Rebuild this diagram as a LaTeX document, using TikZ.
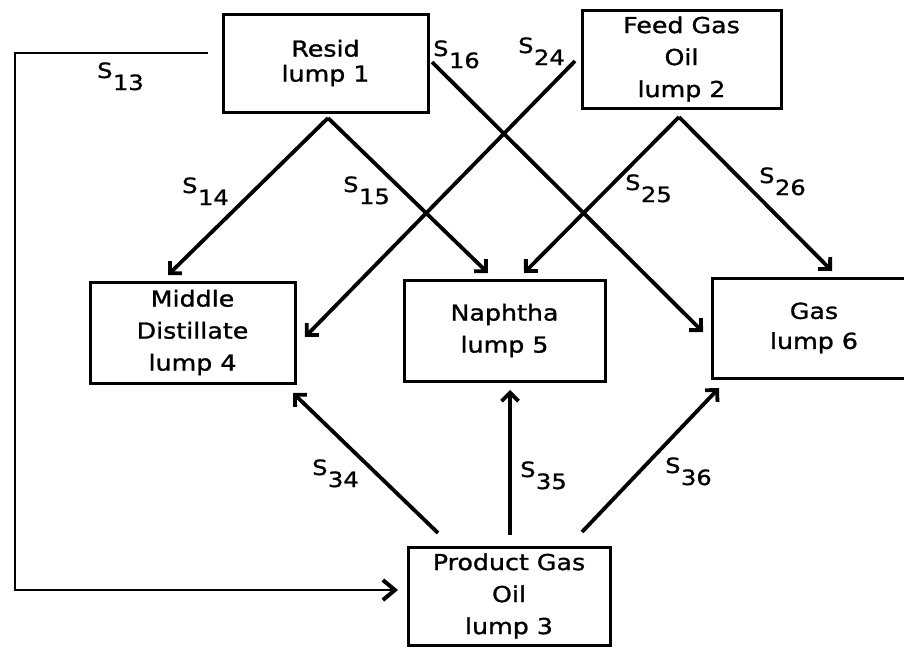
\documentclass[tikz,border=0pt]{standalone}
\usepackage{fontspec}
\setmainfont[FakeStretch=1.15,FakeBold=1.2]{DejaVu Sans}
\usetikzlibrary{arrows.meta}
\newcommand\slbl[1]{S\kern0.5pt\raisebox{-12pt}{#1}}
\tikzset{
  lumpbox/.style={draw, line width=3pt, align=center, inner sep=0pt,
    font=\fontsize{22}{32}\selectfont},
  arr/.style={line width=3.8pt, -{Straight Barb[angle=90:12pt]}},
  feedline/.style={line width=2.6pt, -{Straight Barb[length=12pt,width=20pt,line width=4pt]}},
  lbl/.style={inner sep=0pt, anchor=base west, font=\fontsize{21}{25}\selectfont}
}
\begin{document}
\begin{tikzpicture}[x=1pt,y=-1pt]
\useasboundingbox (0,0) rectangle (904,648);
% boxes
\node[lumpbox, minimum width=205pt, minimum height=98pt, font=\fontsize{22}{25}\selectfont] (r1) at (325.5,63) {Resid\\lump 1};
\node[lumpbox, minimum width=199pt, minimum height=98pt] (f2) at (681.5,59) {Feed Gas\\Oil\\lump 2};
\node[lumpbox, minimum width=205pt, minimum height=101pt] (md4) at (192.5,332.5) {Middle\\Distillate\\lump 4};
\node[lumpbox, minimum width=201pt, minimum height=101pt] (n5) at (504.5,330.5) {Naphtha\\lump 5};
\node[lumpbox, minimum width=204pt, minimum height=100pt, font=\fontsize{22}{30}\selectfont] (g6) at (814,328) {Gas\\lump 6};
\node[lumpbox, minimum width=202pt, minimum height=98pt] (p3) at (509,596) {Product Gas\\Oil\\lump 3};
% connector ends
\coordinate (a1) at (328,118);
\coordinate (a2) at (679,117);
\coordinate (t14) at (168,275);
\coordinate (t15) at (488,273);
\coordinate (s16) at (432,62);
\coordinate (t16) at (703,332);
\coordinate (s24) at (575,61);
\coordinate (t24) at (305,337);
\coordinate (t25) at (524,273);
\coordinate (t26) at (832,271);
\coordinate (s34) at (438,533);
\coordinate (t34) at (293,393);
\coordinate (s35) at (510,535);
\coordinate (t35) at (510,390);
\coordinate (s36) at (582,532);
\coordinate (t36) at (719,388);
\coordinate (s13) at (208,53);
\coordinate (c1) at (15,53);
\coordinate (c2) at (15,590);
\coordinate (t13) at (398,590);
% connectors
\draw[feedline] (s13) -- (c1) -- (c2) -- (t13);
\draw[arr] (a1) -- (t14);
\draw[arr] (a1) -- (t15);
\draw[arr] (s16) -- (t16);
\draw[arr] (s24) -- (t24);
\draw[arr] (a2) -- (t25);
\draw[arr] (a2) -- (t26);
\draw[arr] (s34) -- (t34);
\draw[arr] (s35) -- (t35);
\draw[arr] (s36) -- (t36);
% labels
\node[lbl] (l13) at (97,78) {\slbl{13}};
\node[lbl] (l16) at (433,56) {\slbl{16}};
\node[lbl] (l24) at (518,53) {\slbl{24}};
\node[lbl] (l14) at (182,193) {\slbl{14}};
\node[lbl] (l15) at (343,192) {\slbl{15}};
\node[lbl] (l25) at (625,190) {\slbl{25}};
\node[lbl] (l26) at (759,183) {\slbl{26}};
\node[lbl] (l34) at (312,475) {\slbl{34}};
\node[lbl] (l35) at (520,477) {\slbl{35}};
\node[lbl] (l36) at (665,473) {\slbl{36}};
\end{tikzpicture}
\end{document}
